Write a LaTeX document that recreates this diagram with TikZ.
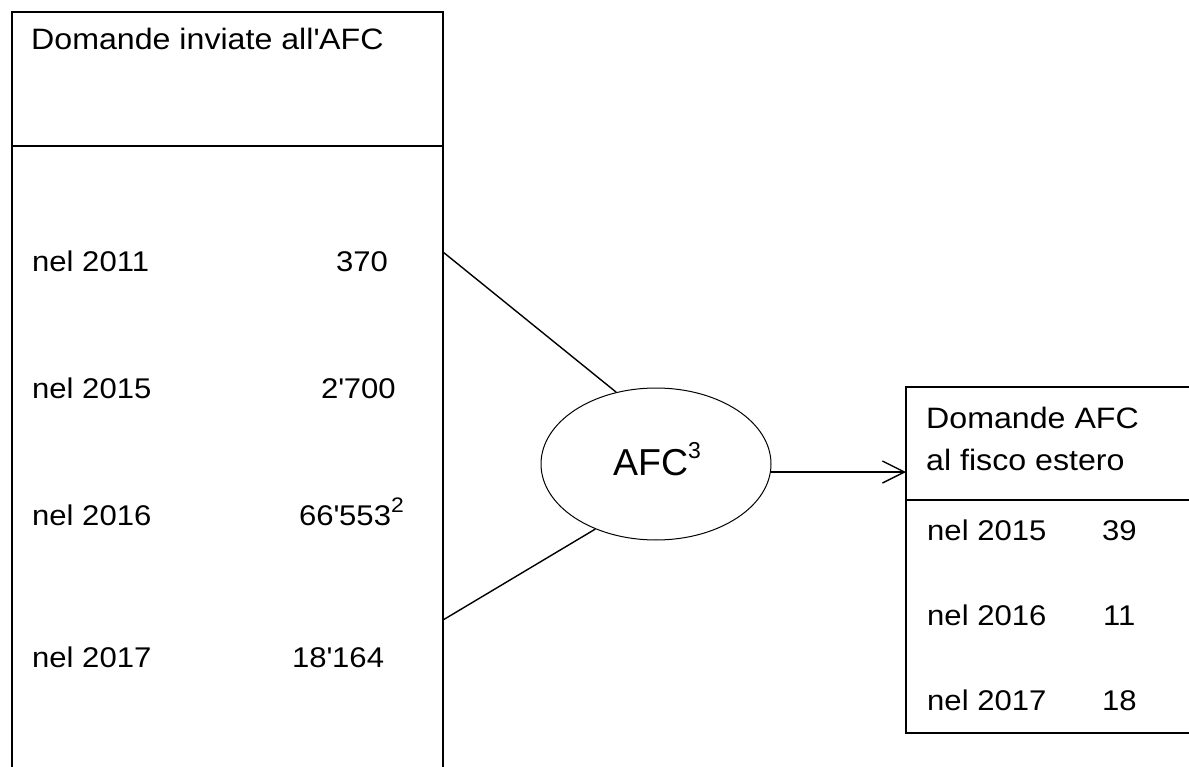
\documentclass[tikz,border=0pt]{standalone}
\usepackage{fontspec}
\setmainfont{Liberation Sans}[FakeStretch=1.09]
\newfontfamily\afcfont{Liberation Sans}
\usetikzlibrary{shapes.geometric,arrows.meta}
\tikzset{
  boxline/.style={line width=2.2pt, line cap=rect},
  conn/.style={line width=1.4pt},
  txt/.style={anchor=base west, inner sep=0pt, font=\fontsize{28.5}{34}\selectfont},
  hdr/.style={txt, font=\fontsize{29.5}{34}\selectfont},
  oval/.style={draw, ellipse, line width=1pt, minimum width=230pt, minimum height=152pt, inner sep=0pt},
  afcsty/.style={anchor=base, inner sep=0pt, font=\afcfont\fontsize{37.5}{40}\selectfont}
}
\begin{document}
\begin{tikzpicture}[x=1pt,y=-1pt]
\useasboundingbox (0,0) rectangle (1189,767);
% left box (open at the bottom)
\draw[boxline] (12,767) -- (12,12) -- (443,12) -- (443,767);
\draw[boxline] (12,146) -- (443,146);
% right box (open at the right)
\draw[boxline] (1189,387) -- (906,387) -- (906,733) -- (1189,733);
\draw[boxline] (906,500) -- (1189,500);

% left box texts
\node[hdr] (hl) at (31,50) {Domande inviate all\textquotesingle AFC};
\node[txt] (y11) at (32,272) {nel 2011};
\node[txt] (v11) at (336,272) {370};
\node[txt] (y15) at (32,398) {nel 2015};
\node[txt] (v15) at (321,398) {2\textquotesingle 700};
\node[txt] (y16) at (32,525) {nel 2016};
\node[txt] (v16) at (299,525) {66\textquotesingle 553\raisebox{13pt}{\fontsize{21}{21}\selectfont 2}};
\node[txt] (y17) at (32,667) {nel 2017};
\node[txt] (v17) at (292,667) {18\textquotesingle 164};

% right box texts
\node[hdr] (hr1) at (926,428) {Domande AFC};
\node[hdr] (hr2) at (926,470) {al fisco estero};
\node[txt] (r15) at (927,540) {nel 2015};
\node[txt] (s15) at (1102,540) {39};
\node[txt] (r16) at (927,625) {nel 2016};
\node[txt] (s16) at (1103,625) {11};
\node[txt] (r17) at (927,710) {nel 2017};
\node[txt] (s17) at (1102,710) {18};

% ellipse
\node[oval] (e) at (656,464) {};
\node[afcsty] (afc) at (657,475) {AFC\raisebox{17pt}{\fontsize{23}{23}\selectfont 3}};

% connectors
\coordinate (l1) at (443,252);
\coordinate (l2) at (443,620);
\coordinate (rin) at (906,473);
\draw[conn] (l1) -- (e.119);
\draw[conn] (l2) -- (e.227);
\draw[conn, -{Straight Barb[length=22pt,width=22pt,line width=1.4pt]}] (e.-4.5) -- (e.-4.5 -| rin);
\end{tikzpicture}
\end{document}
